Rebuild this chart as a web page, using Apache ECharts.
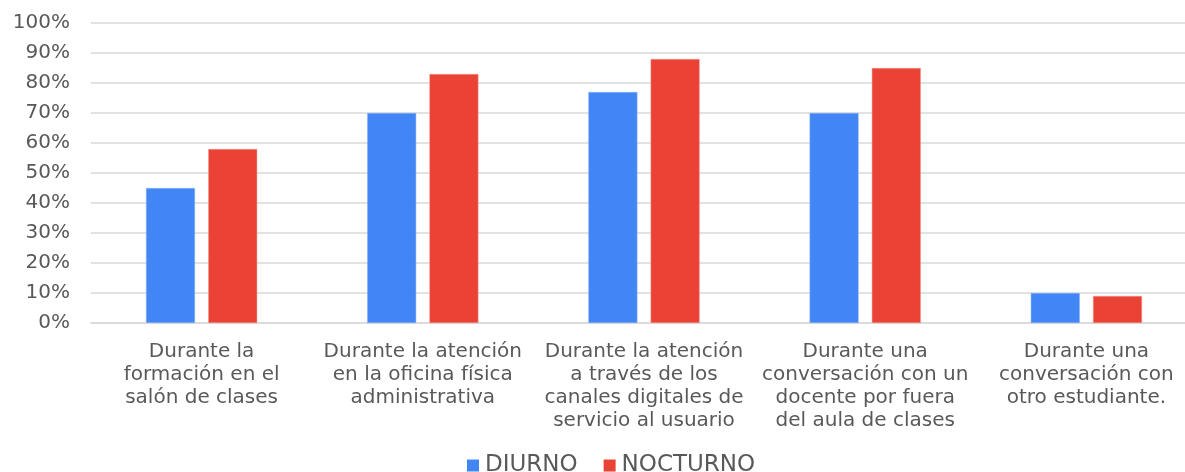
<!DOCTYPE html>
<html>
<head>
<meta charset="utf-8">
<script src="https://cdn.jsdelivr.net/npm/echarts@6/dist/echarts.min.js"></script>
<style>
html,body{margin:0;padding:0;background:#fff;}
#chart{width:1185px;height:472px;}
</style>
</head>
<body>
<div id="chart"></div>
<script>
const categories = [
  "Durante la\nformación en el\nsalón de clases",
  "Durante la atención\nen la oficina física\nadministrativa",
  "Durante la atención\na través de los\ncanales digitales de\nservicio al usuario",
  "Durante una\nconversación con un\ndocente por fuera\ndel aula de clases",
  "Durante una\nconversación con\notro estudiante."
];
const diurno = [45, 70, 77, 70, 10];
const nocturno = [58, 83, 88, 85, 9];
const seriesNames = ["DIURNO", "NOCTURNO"];
const yTicks = { min: 0, max: 100, interval: 10 };

const FONT = "DejaVu Sans";
const TEXT = "#595959";
const chart = echarts.init(document.getElementById('chart'), null, {renderer: 'canvas'});
chart.setOption({
  animation: false,
  backgroundColor: '#fff',
  textStyle: { fontFamily: FONT },
  grid: { left: 91, top: 23, width: 1106, bottom: 149, containLabel: false, outerBoundsMode: 'none' },
  legend: {
    data: seriesNames,
    left: 467,
    top: 454,
    padding: 0,
    icon: 'rect',
    itemWidth: 12,
    itemHeight: 12,
    itemGap: 26,
    itemStyle: { borderWidth: 0 },
    textStyle: { fontFamily: FONT, fontSize: 23, color: TEXT, padding: [0, 0, 0, 1] }
  },
  xAxis: {
    type: 'category',
    data: categories,
    axisLine: { show: true, lineStyle: { color: '#d9d9d9', width: 1.5 } },
    axisTick: { show: false },
    axisLabel: {
      interval: 0,
      margin: 17,
      fontFamily: FONT,
      fontSize: 20,
      lineHeight: 23,
      color: TEXT,
      align: 'center'
    }
  },
  yAxis: {
    type: 'value',
    min: yTicks.min,
    max: yTicks.max,
    interval: yTicks.interval,
    axisLine: { show: false },
    axisTick: { show: false },
    splitLine: { lineStyle: { color: '#d9d9d9', width: 1.5 } },
    axisLabel: {
      formatter: '{value}%',
      margin: 21,
      fontFamily: FONT,
      fontSize: 20,
      color: TEXT
    }
  },
  series: [
    {
      name: seriesNames[0],
      type: 'bar',
      data: diurno,
      barWidth: 49,
      barGap: '27%',
      itemStyle: { color: '#4285F4', borderColor: '#8fb5f8', borderWidth: 0.5 }
    },
    {
      name: seriesNames[1],
      type: 'bar',
      data: nocturno,
      barWidth: 49,
      barGap: '27%',
      itemStyle: { color: '#EA4335', borderColor: '#f39a92', borderWidth: 0.5 }
    }
  ]
});
</script>
</body>
</html>
